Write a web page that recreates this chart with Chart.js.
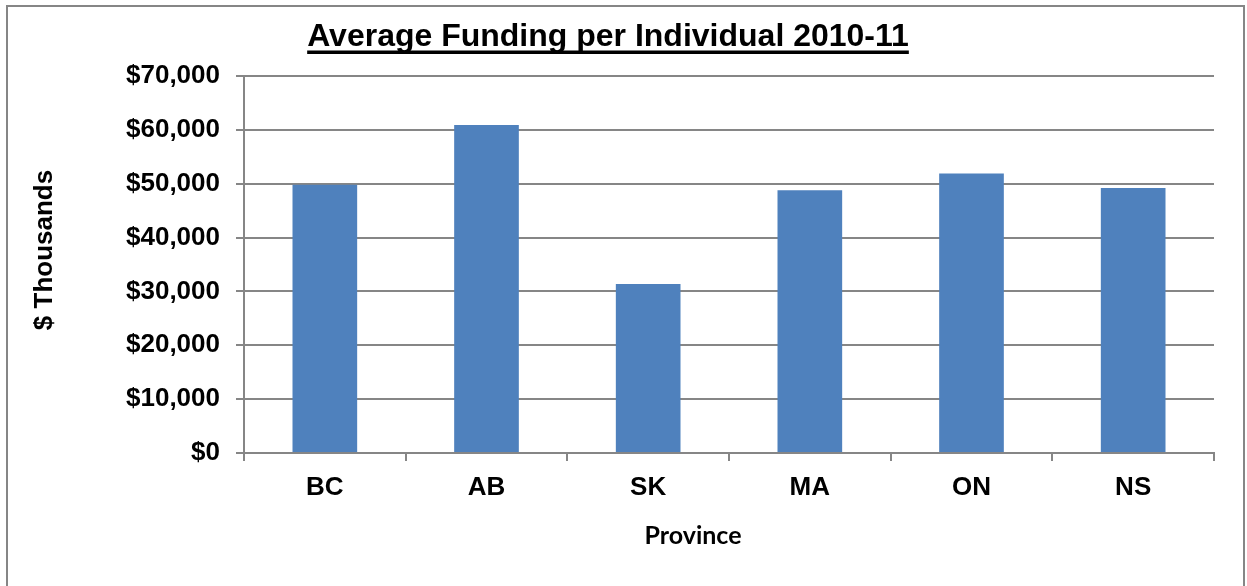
<!DOCTYPE html>
<html>
<head>
<meta charset="utf-8">
<script src="https://cdn.jsdelivr.net/npm/chart.js@4/dist/chart.umd.min.js"></script>
<style>
  html, body { margin: 0; padding: 0; background: #ffffff; }
  #wrap { position: relative; width: 1247px; height: 586px; }
</style>
</head>
<body>
<div id="wrap"><canvas id="c" width="1247" height="586"></canvas></div>
<script>
const chartTitle = 'Average Funding per Individual 2010-11';
const xAxisTitle = 'Province';
const yAxisTitle = '$ Thousands';
const provinces = ['BC', 'AB', 'SK', 'MA', 'ON', 'NS'];
const funding = [49800, 60900, 31400, 48800, 51900, 49200];
const yMin = 0;
const yMax = 70000;
const yStep = 10000;

const GRAY = '#868686';

const decorPlugin = {
  id: 'decor',
  beforeDraw(chart) {
    const ctx = chart.ctx;
    ctx.save();
    ctx.fillStyle = '#ffffff';
    ctx.fillRect(0, 0, chart.width, chart.height);
    ctx.strokeStyle = GRAY;
    ctx.lineWidth = 2;
    ctx.strokeRect(7, 6, 1237, 620);
    ctx.restore();
  },
  afterDraw(chart) {
    const ctx = chart.ctx;
    ctx.save();
    // main title, underlined
    ctx.fillStyle = '#000000';
    ctx.font = 'bold 32px "Liberation Sans", Arial, sans-serif';
    ctx.textAlign = 'center';
    ctx.textBaseline = 'alphabetic';
    const tx = 608, ty = 46;
    ctx.fillText(chartTitle, tx, ty);
    const w = ctx.measureText(chartTitle).width;
    ctx.fillRect(tx - w / 2, 50.5, w, 3.5);
    // x axis title
    ctx.font = 'bold 25px Lato, "Open Sans", sans-serif';
    ctx.fillText(xAxisTitle, 693, 544);
    // y axis title
    ctx.translate(45, 250);
    ctx.rotate(-Math.PI / 2);
    ctx.font = 'bold 26px "Liberation Sans", Arial, sans-serif';
    ctx.textBaseline = 'middle';
    ctx.fillText(yAxisTitle, 0, 0);
    ctx.restore();
  }
};

new Chart(document.getElementById('c'), {
  type: 'bar',
  data: {
    labels: provinces,
    datasets: [{
      label: 'Average Funding',
      data: funding,
      backgroundColor: '#4F81BD',
      borderWidth: 0,
      barPercentage: 0.4,
      categoryPercentage: 1.0
    }]
  },
  options: {
    responsive: false,
    animation: false,
    devicePixelRatio: 1,
    layout: { padding: { left: 0, top: 76, right: 33, bottom: 0 } },
    plugins: {
      legend: { display: false },
      title: { display: false },
      tooltip: { enabled: false }
    },
    scales: {
      x: {
        grid: {
          offset: true,
          drawOnChartArea: false,
          drawTicks: true,
          tickLength: 8,
          color: GRAY,
          lineWidth: 2
        },
        border: { display: true, color: GRAY, width: 2 },
        ticks: {
          color: '#000000',
          padding: 11,
          font: { family: '"Liberation Sans", Arial, sans-serif', size: 26, weight: 'bold' }
        },
        afterFit(scale) { scale.height = 133; }
      },
      y: {
        min: yMin,
        max: yMax,
        grid: {
          color: GRAY,
          lineWidth: 2,
          drawTicks: true,
          tickLength: 8
        },
        border: { display: true, color: GRAY, width: 2 },
        ticks: {
          stepSize: yStep,
          color: '#000000',
          padding: 16,
          font: { family: '"Liberation Sans", Arial, sans-serif', size: 26, weight: 'bold' },
          callback: (v) => '$' + Number(v).toLocaleString('en-US')
        },
        afterFit(scale) { scale.width = 244; }
      }
    }
  },
  plugins: [decorPlugin]
});
</script>
</body>
</html>
